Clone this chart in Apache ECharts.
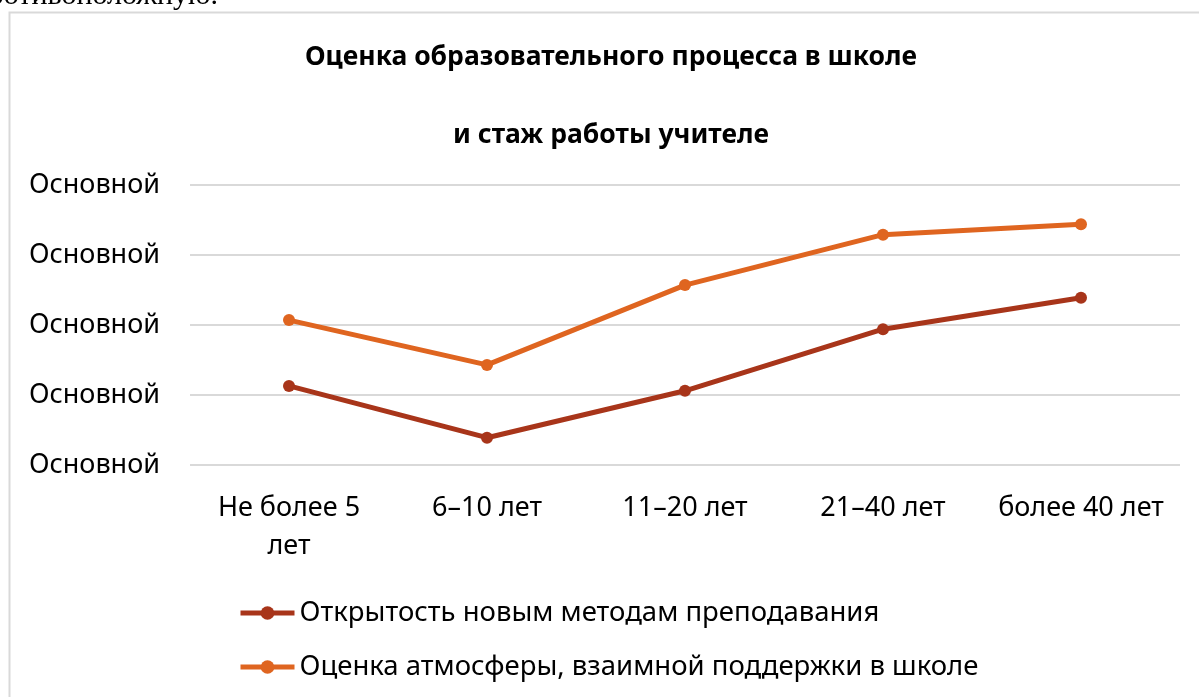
<!DOCTYPE html>
<html lang="ru">
<head>
    <meta charset="UTF-8">
    <title>Оценка образовательного процесса в школе</title>
    <style>
        body { margin: 0; background: #fff; }
        #container { width: 1199px; height: 697px; }
    </style>
    <script src="https://cdn.jsdelivr.net/npm/echarts@6/dist/echarts.min.js"></script>
</head>
<body>
    <div id="container"></div>
    <script>
        // данные графика
        var categories = ['Не более 5\nлет', '6–10 лет', '11–20 лет', '21–40 лет', 'более 40 лет'];
        var seriesNames = ['Открытость новым методам преподавания', 'Оценка атмосферы, взаимной поддержки в школе'];
        var openness = [1.13, 0.39, 1.06, 1.94, 2.39];
        var atmosphere = [2.07, 1.43, 2.57, 3.29, 3.44];
        var yTickLabel = 'Основной';

        var font = '"Noto Sans", "Open Sans", sans-serif';
        var chart = echarts.init(document.getElementById('container'));

        chart.setOption({
            backgroundColor: '#fff',
            title: [
                { text: 'Оценка образовательного процесса в школе', left: 606, top: 39, textAlign: 'center',
                  textStyle: { fontFamily: font, fontSize: 26.5, fontWeight: 'bold', color: '#000' } },
                { text: 'и стаж работы учителе', left: 606, top: 117, textAlign: 'center',
                  textStyle: { fontFamily: font, fontSize: 26.5, fontWeight: 'bold', color: '#000' } }
            ],
            graphic: [
                { type: 'rect', shape: { x: 9.5, y: 12.5, width: 1300, height: 700 },
                  style: { fill: 'none', stroke: '#d9d9d9', lineWidth: 2 }, silent: true },
                { type: 'text', right: 981, top: -19,
                  style: { text: 'противоположную.', font: '30px "Liberation Serif", serif', fill: '#000' } }
            ],
            grid: { left: 190, right: 19, top: 185, bottom: 232, containLabel: false },
            legend: {
                orient: 'vertical', left: 238, top: 599, itemGap: 26, padding: 0,
                itemWidth: 54, itemHeight: 17,
                lineStyle: { width: 5 },
                textStyle: { fontFamily: font, fontSize: 27.5, color: '#000' },
                data: seriesNames
            },
            xAxis: {
                type: 'category', data: categories, boundaryGap: true,
                axisLine: { show: false }, axisTick: { show: false },
                axisLabel: { fontFamily: font, fontSize: 27, color: '#000', margin: 24, lineHeight: 38,
                             interval: 0, hideOverlap: false }
            },
            yAxis: {
                type: 'value', min: 0, max: 4, interval: 1,
                axisLine: { show: false }, axisTick: { show: false },
                splitLine: { lineStyle: { color: '#d9d9d9', width: 2 } },
                axisLabel: { fontFamily: font, fontSize: 27, color: '#000', margin: 30, align: 'right',
                             formatter: function () { return yTickLabel; } }
            },
            series: [
                { name: seriesNames[0], type: 'line', data: openness, symbol: 'circle', symbolSize: 12,
                  color: '#A8351A', lineStyle: { width: 5 } },
                { name: seriesNames[1], type: 'line', data: atmosphere, symbol: 'circle', symbolSize: 12,
                  color: '#DF6520', lineStyle: { width: 5 } }
            ]
        });
    </script>
</body>
</html>
